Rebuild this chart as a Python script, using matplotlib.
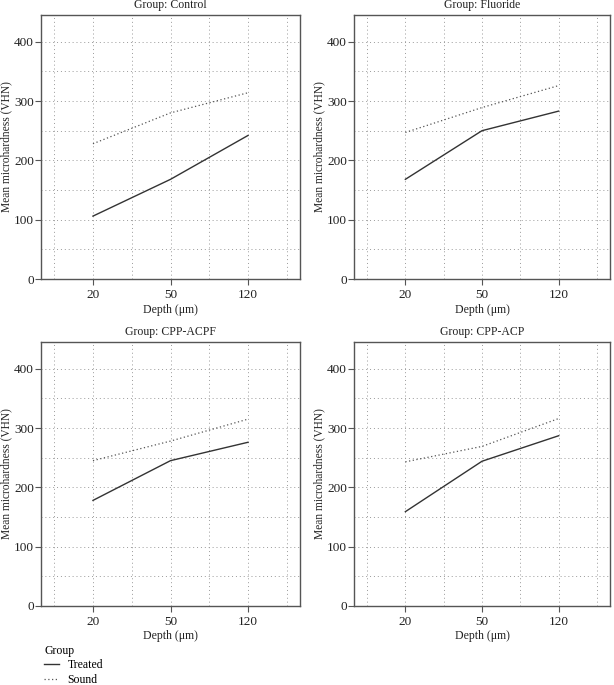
import matplotlib
matplotlib.use('Agg')
import matplotlib.pyplot as plt
from matplotlib.lines import Line2D

plt.rcParams['font.family'] = ['Liberation Serif', 'DejaVu Serif']

depths = ['20', '50', '120']
groups = ['Control', 'Fluoride', 'CPP-ACPF', 'CPP-ACP']

treated = {
    'Control': [106, 168, 242],
    'Fluoride': [168, 250, 283],
    'CPP-ACPF': [178, 245, 276],
    'CPP-ACP': [159, 244, 287],
}
sound = {
    'Control': [228, 280, 314],
    'Fluoride': [247, 289, 326],
    'CPP-ACPF': [245, 278, 315],
    'CPP-ACP': [243, 269, 316],
}

W, H = 614, 685
fig = plt.figure(figsize=(W / 100, H / 100), dpi=100)

# axes boxes in pixels: left, top, right, bottom
boxes = [(41, 15, 300, 279), (354, 15, 610, 279),
         (41, 342, 300, 606), (354, 342, 610, 606)]

edge = '#555555'
x = [1, 2, 3]
for g, (l, t, r, b) in zip(groups, boxes):
    ax = fig.add_axes([l / W, 1 - b / H, (r - l) / W, (b - t) / H])
    ax.plot(x, treated[g], color='#333333', lw=1.0, ls='-')
    ax.plot(x, sound[g], color='#555555', lw=0.9, ls=(0, (1, 2)))
    ax.set_xlim(0.33, 3.67)
    ax.set_ylim(0, 445)
    ax.set_xticks(x)
    ax.set_xticklabels(depths)
    ax.set_yticks([0, 100, 200, 300, 400])
    ax.set_xticks([0.5, 1, 1.5, 2, 2.5, 3, 3.5], minor=True)
    ax.set_yticks(range(0, 450, 50), minor=True)
    ax.tick_params(which='minor', length=0)
    ax.tick_params(which='major', length=4, width=0.8, color=edge,
                   labelsize=9.5, labelcolor='#222222')
    ax.tick_params(axis='y', pad=1)
    ax.tick_params(axis='x', pad=3)
    ax.grid(True, which='both', color='#999999', ls=(0, (1, 3)), lw=0.7)
    for s in ax.spines.values():
        s.set_color(edge)
        s.set_linewidth(1.0)
    ax.set_title('Group: ' + g, fontsize=8.5, color='#222222', pad=5)
    ax.set_xlabel('Depth (μm)', fontsize=8.5, color='#222222', labelpad=2)
    ax.set_ylabel('Mean microhardness (VHN)', fontsize=8.3, color='#222222', labelpad=1)

handles = [Line2D([], [], color='#333333', lw=1.0),
           Line2D([], [], color='#555555', lw=0.9, ls=(0, (1, 2)))]
leg = fig.legend(handles, ['Treated', 'Sound'], title='Group', loc='upper left',
                 bbox_to_anchor=(37 / W, 1 - 638 / H), frameon=False,
                 fontsize=8.5, title_fontsize=8.5, alignment='left',
                 handlelength=1.3, handletextpad=0.7, labelspacing=0.2,
                 borderpad=0.1)

fig.savefig('out.png', dpi=100)
